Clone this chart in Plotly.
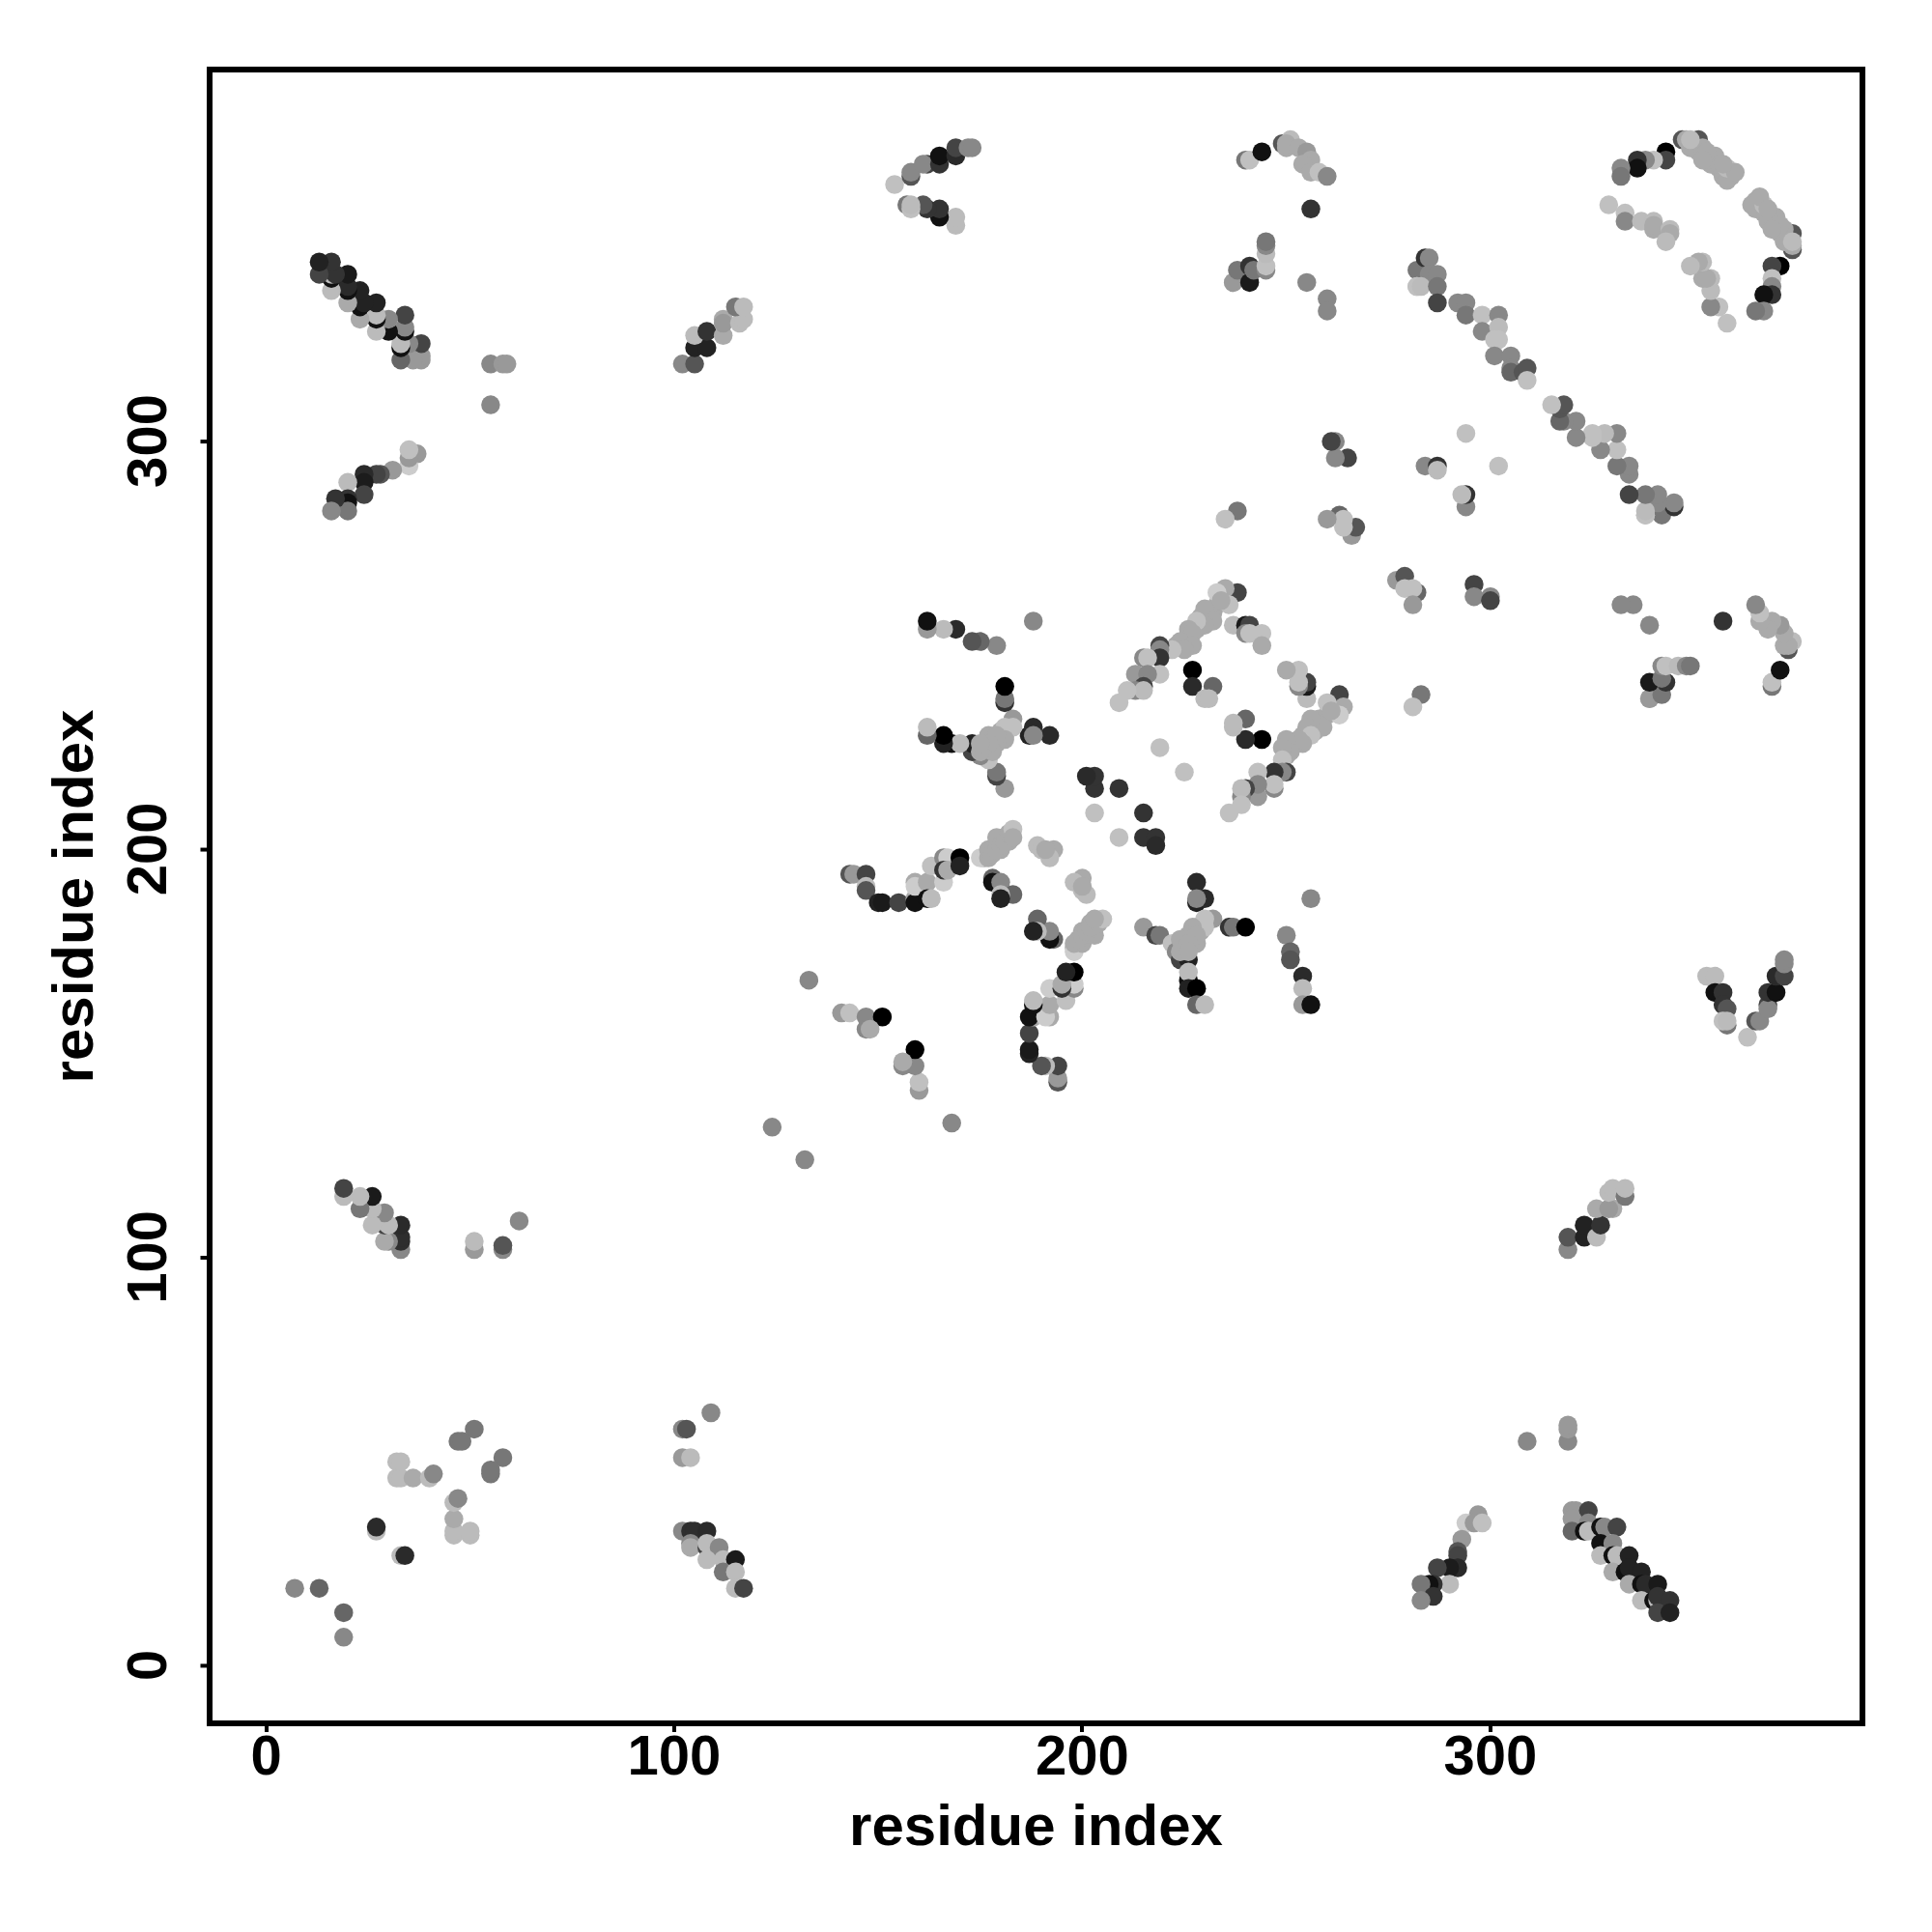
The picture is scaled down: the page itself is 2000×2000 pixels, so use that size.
import plotly.graph_objects as go

# overlapped contacts inside the dense light bands (drawn first, beneath the rest)
band_i = [176,178,180,180,181,182, 176,177,178,180,180,181,177,
 226,228,229,229,231,223,225,226,233,232,
 350,353,355,357,351,354,356,357,359,351,353]
band_j = [198,200,200,202,203,202, 225,224,226,227,229,228,228,
 252,254,255,257,258,250,251,250,260,258,
 373,370,368,366,371,369,367,365,365,372,369]
band_shade = [170,170,170,170,170,170, 170,170,170,170,170,170,170,
 170,170,170,170,170,170,170,170,170,170,
 170,170,170,170,170,170,170,170,170,170,170]

res_i = [7,13,27,27,32,33,36,40,41,32,33,51,47,48,
 62,58,58,51,51,33,33,33,33,30,29,29,30,29,26,26,26,23,23,19,19,
 55,55,58,59,
 37,35,35,35,31,28,27,24,24,24,20,20,20,20,17,16,
 38,38,38,36,33,35,33,33,34,34,34,30,30,27,27,27,27,23,23,24,23,20,20,20,20,16,16,16,17,16,13,13,
 102,105,105,108,105,108,112,112,112,116,117,115,117,
 124,133,141,143,147,151,147,148,
 143,144,147,147,147,150,151,155,159,159,159,159,162,162,163,163,166,166,167,166,167,170,170,
 175,177,177,178,179,179,180,181,182,183,183,
 178,178,180,183,180,180,
 189,190,193,192,191,
 203,203,203,201,209,
 192,187,188,188,188,
 181,179,179,177,175,173,173,168,170,166,166,162,162,
 183,183,181,181,179,179,178,177,175,175,
 181,181,181,
 179,175,173,169,166,162,162,
 238,235,233,236,234,230,232,230,228,226,227,224,227,225,222,219,219,219,215,216,219,213,216,215,213,215,211,209,
 227,227,232,230,231,
 237,240,241,240,241,244,244,
 219,
 266,267,264,263,264,260,
 265,262,262,261,
 238,235,
 347,348,351,349,352,349,355,354,356,358,358,360,353,352,357,
 343,343,340,338,336,336,332,332,
 329,333,333,337,340,340,340,344,344,343,
 282,282,284,285,285,287,282,283,287,287,
 292,294,294,298,302,298,302,302,301,301,305,305,305,308,309,309,
 294,284,287,287,
 240,241,244,249,250,251,250,253,255,256,254,256,258,260,256,
 237,237,238,241,241,242,245,245,245,245,245,
 255,260,260,
 169,169,165,165,162,161,157,158,158,154,158,158,162,161,165,165,169,169,172,173]

res_j = [19,19,33,34,46,46,46,46,47,50,50,58,55,55,
 109,102,103,102,104,102,104,105,108,104,104,108,108,111,108,112,115,112,115,115,117,
 309,319,319,319,
 297,294,296,298,293,292,292,292,290,287,290,286,285,283,286,283,
 320,321,324,320,320,324,323,324,327,328,331,327,330,327,330,331,334,330,333,334,337,334,337,338,341,337,340,341,341,344,341,344,
 319,319,323,323,326,327,326,330,329,329,330,333,333,
 132,168,160,160,159,159,156,156,
 194,194,194,191,190,187,187,187,188,187,192,191,192,188,188,196,192,198,198,195,195,198,196,
 198,198,200,199,200,203,201,202,204,205,203,
 193,192,192,189,189,188,
 201,200,200,198,200,
 209,215,218,218,215,
 228,228,230,228,256,
 215,218,219,222,223,224,226,226,226,226,228,228,230,
 232,230,230,227,226,228,224,226,224,226,
 236,237,240,
 250,251,251,254,254,254,256,
 263,264,263,260,261,259,256,255,256,254,253,251,250,249,249,250,249,247,247,247,243,243,243,240,239,239,239,236,
 244,240,240,237,237,
 255,255,255,253,253,253,250,
 225,
 277,279,279,282,281,281,
 296,296,300,300,
 283,281,
 374,374,374,372,372,374,370,368,368,364,367,366,371,369,368,
 371,369,369,369,369,367,367,365,
 358,356,354,354,354,352,353,352,351,349,
 342,338,345,345,341,341,338,338,338,334,
 334,334,331,331,331,327,328,325,325,321,321,318,317,317,318,315,
 302,294,294,293,
 369,369,371,373,372,374,373,372,371,369,368,366,366,365,357,
 339,339,342,343,339,342,342,343,346,348,349,
 339,335,332,
 353,355,355,357,357,358,358,357,358,363,365,366,368,368,368,370,370,372,372,372]

shade = [0x88,0x66,0xbb,0x2a,0xbb,0xbb,0xaa,0xbb,0x88,0xbb,0xbb,0x77,0x77,0x77,
 0x88,0x88,0x55,0x99,0xbb,0x88,0x2e,0x2e,0x2a,0x88,0xaa,0x44,0xbb,0x88,0xbb,0xbb,0x1a,0x77,0xbb,0xbb,0x44,
 0x88,0x88,0x99,0x99,
 0x99,0xcc,0x99,0xc0,0x99,0x55,0x44,0x2a,0x1c,0x44,0xbb,0x33,0x11,0x77,0x33,0x88,
 0x99,0x99,0x44,0x99,0x66,0x88,0x11,0xbb,0x11,0x88,0x44,0x11,0x88,0xbb,0x11,0xbb,0x22,0xaa,0x11,0x22,0x22,0xaa,0x11,0x2a,0x1a,0xbb,0x11,0xbb,0x33,0x33,0x44,0x22,
 0x88,0x55,0x22,0x22,0xbb,0x33,0xaa,0xaa,0x99,0xbb,0xbb,0x77,0xbb,
 0x88,0x88,0x99,0xc0,0x88,0x00,0x88,0xaa,
 0x55,0x99,0x44,0xbb,0x55,0x22,0x1a,0x44,0xaa,0x11,0xaa,0xcc,0xaa,0x11,0xbb,0xc0,0xcc,0x88,0xcc,0x33,0xaa,0x00,0x22,
 0xcc,0xaa,0xaa,0xaa,0xaa,0xaa,0xaa,0xaa,0xaa,0xc0,0xaa,
 0x66,0x11,0x88,0x66,0xbb,0x22,
 0xbb,0xbb,0xaa,0xbb,0xaa,
 0xc0,0x33,0x33,0x2a,0x33,
 0x2a,0x22,0x2a,0x88,0x88,
 0x99,0x44,0x77,0xc0,0x88,0x44,0x22,0x11,0xbb,0x22,0x00,0x66,0xbb,
 0x99,0xc0,0xc0,0xaa,0xaa,0xaa,0xaa,0xaa,0xaa,0xaa,
 0x33,0x77,0x00,
 0x88,0x66,0x55,0x2a,0xbb,0x99,0x11,
 0x44,0xaa,0xcc,0xc0,0xaa,0xaa,0xaa,0xaa,0xc0,0xaa,0xaa,0xaa,0xaa,0xaa,0xc0,0x44,0x88,0x33,0x88,0xc0,0xc0,0x99,0x88,0x44,0x88,0xbb,0xc0,0xc0,
 0x00,0x2a,0x66,0xbb,0xbb,
 0xbb,0x1a,0x44,0x88,0xc0,0xc0,0xaa,
 0xc0,
 0x99,0x55,0xc0,0x66,0xc0,0x99,
 0x44,0x88,0x88,0x44,
 0x77,0xc0,
 0x55,0xaa,0x55,0xaa,0xaa,0xbb,0xaa,0xaa,0xaa,0xaa,0xbb,0xaa,0xaa,0xaa,0xaa,
 0x00,0x44,0xc0,0x88,0x33,0x11,0x88,0x77,
 0xc0,0xc0,0x88,0xbb,0xbb,0xaa,0xaa,0xbb,0xaa,0xbb,
 0x77,0xc0,0x33,0x88,0x88,0x88,0xc0,0xbb,0x77,0x44,
 0x88,0x88,0x77,0xc0,0x88,0x88,0xbb,0xc0,0xc0,0x88,0x88,0x88,0x66,0x55,0x55,0xc0,
 0xc0,0x88,0x33,0xbb,
 0x77,0xc0,0x11,0x55,0xaa,0xbb,0xaa,0xaa,0x99,0xaa,0xaa,0xaa,0xc0,0x88,0x33,
 0xbb,0x99,0x77,0x33,0x1a,0x77,0x88,0xc0,0xbb,0x88,0x77,
 0x88,0x88,0x88,
 0xbb,0xbb,0x11,0x33,0x33,0x55,0x77,0xc0,0xbb,0xc0,0x55,0x88,0x44,0x88,0x33,0x11,0x2a,0x44,0x88,0x88]

tick_values = [0, 100, 200, 300]
tick_labels = ["0", "100", "200", "300"]
axis_title = "residue index"

all_i = band_i + res_i
all_j = band_j + res_j
colors = [f"rgb({g},{g},{g})" for g in band_shade + shade]
xs = all_i + all_j
ys = all_j + all_i

fig = go.Figure(go.Scatter(x=xs, y=ys, mode="markers",
    marker=dict(size=19.5, color=colors + colors, line=dict(width=0))))

TITLE_FONT = dict(family="Liberation Sans", size=60, color="black")
axis = dict(tickmode="array", tickvals=tick_values, ticktext=tick_labels, ticks="outside", ticklen=6, tickwidth=4,
            tickcolor="black", showline=True, linewidth=6, linecolor="black", mirror=True,
            showgrid=False, zeroline=False, tickfont=dict(family="Liberation Sans", size=58, color="black", weight="bold"),
            title=dict(text=f"<b>{axis_title}</b>", font=TITLE_FONT))
fig.update_layout(width=1992, height=1992, autosize=False, paper_bgcolor="white", plot_bgcolor="white",
    margin=dict(l=211.5, r=75.3, t=66.7, b=219, pad=0), showlegend=False,
    xaxis=dict(axis, range=[-13.14, 390.46], ticklabelstandoff=-26),
    yaxis=dict(axis, range=[-13.4, 390.46], tickangle=-90, ticklen=19, tickcolor="rgba(0,0,0,0)",
               # a trailing no-break space re-centres the rotated labels on their ticks
               ticktext=[t + "\u00a0" for t in tick_labels]))
# The y labels sit farther out than the tick marks, so the visible y ticks are short lines at the tick values.
for v in tick_values:
    fig.add_shape(type="line", xref="paper", yref="y", xsizemode="pixel", xanchor=0,
                  x0=-12.5, x1=-6, y0=v, y1=v, line=dict(color="black", width=4), layer="above")
fig.update_xaxes(title_standoff=22)
fig.update_yaxes(title_standoff=5)
fig.write_html("out.html")
